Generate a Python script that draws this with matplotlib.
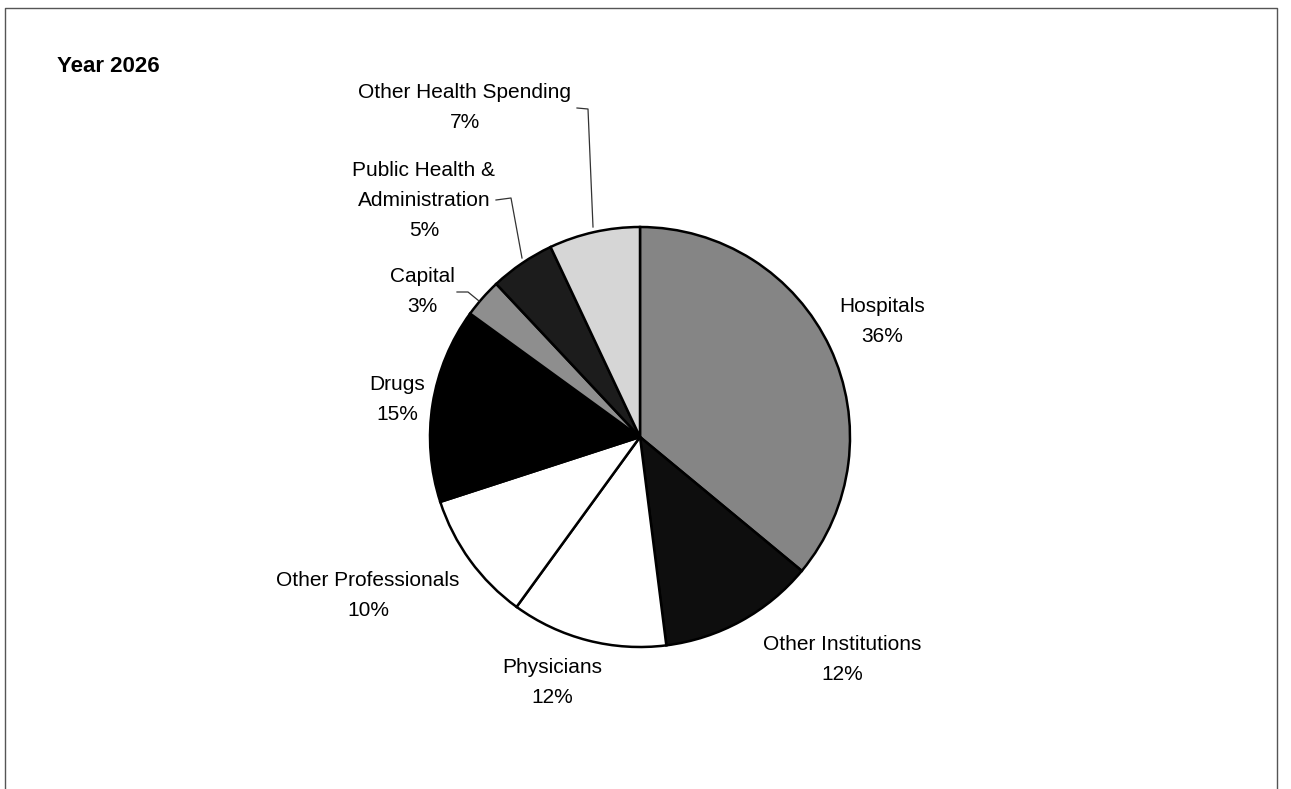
import matplotlib
matplotlib.use("Agg")
import matplotlib.pyplot as plt

plt.rcParams['font.family'] = ['Liberation Sans', 'DejaVu Sans']

# --- data ---
categories = ["Hospitals", "Other Institutions", "Physicians", "Other Professionals",
              "Drugs", "Capital", "Public Health &\nAdministration", "Other Health Spending"]
shares = [36, 12, 12, 10, 15, 3, 5, 7]
title = "Year 2026"

# --- layout (pixels from top-left) ---
W, H = 1291, 789
CX, CY, R = 640, 437, 210
fills = ["#858585", "#0e0e0e", "#ffffff", "#ffffff", "#000000", "#8e8e8e", "#1c1c1c", "#d6d6d6"]
label_x = [882, 842, 552, 368, 397, 422, 424, 465]
label_y = [312, 650, 673, 586, 390, 282, 176, 98]   # baseline of first line
LINE_STEP = 30

# leader lines for the small slices at the top
leaders = [
    [(577, 108), (588, 109), (593, 227)],
    [(496, 200), (511, 198), (522, 258)],
    [(457, 292), (468, 292), (479, 301)],
]

fig = plt.figure(figsize=(W / 100, H / 100), dpi=100)
ax = fig.add_axes([0, 0, 1, 1])

ax.pie(shares, startangle=90, counterclock=False, colors=fills,
       center=(CX, H - CY), radius=R,
       wedgeprops=dict(edgecolor="black", linewidth=1.8))

ax.set_xlim(0, W)
ax.set_ylim(0, H)
ax.set_aspect("equal")
ax.axis("off")

for name, v, x, y in zip(categories, shares, label_x, label_y):
    lines = name.split("\n") + [f"{v}%"]
    for i, s in enumerate(lines):
        ax.text(x, H - (y + i * LINE_STEP), s, ha="center", va="baseline",
                fontsize=15, color="black")

for pts in leaders:
    ax.plot([p[0] for p in pts], [H - p[1] for p in pts], color="#333333", lw=0.9)

ax.text(57, H - 72, title, ha="left", va="baseline", fontsize=16, fontweight="bold")

# frame around the panel (open at the bottom)
ax.plot([5, 5, 1277, 1277], [0, H - 8, H - 8, 0], color="#555555", lw=1.0)

fig.savefig("out.png", dpi=100)
